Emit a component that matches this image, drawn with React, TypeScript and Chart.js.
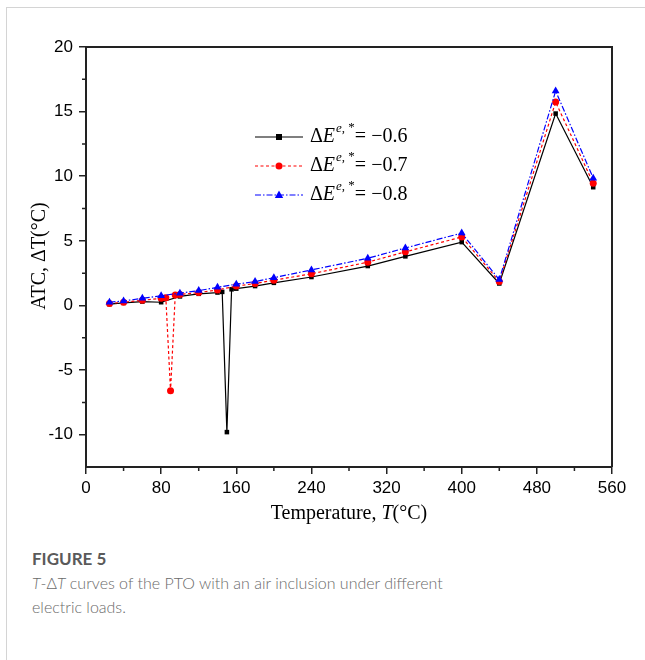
import React, { useEffect, useRef } from "react";
import { Chart, registerables } from "chart.js";

Chart.register(...registerables);

const blackX = [25, 40, 60, 80, 100, 120, 140, 145, 150, 155, 160, 180, 200, 240, 300, 340, 400, 440, 500, 540];
const blackY = [0.1, 0.2, 0.3, 0.25, 0.7, 0.9, 1.0, 1.05, -9.8, 1.25, 1.3, 1.5, 1.75, 2.2, 3.05, 3.8, 4.9, 1.7, 14.85, 9.15];

const redX = [25, 40, 60, 80, 85, 90, 95, 100, 120, 140, 160, 180, 200, 240, 300, 340, 400, 440, 500, 540];
const redY = [0.15, 0.25, 0.4, 0.55, 0.6, -6.6, 0.8, 0.85, 1.0, 1.2, 1.5, 1.7, 1.95, 2.45, 3.35, 4.15, 5.3, 1.85, 15.75, 9.45];

const blueX = [25, 40, 60, 80, 100, 120, 140, 160, 180, 200, 240, 300, 340, 400, 440, 500, 540];
const blueY = [0.25, 0.35, 0.55, 0.75, 0.95, 1.15, 1.4, 1.65, 1.85, 2.15, 2.75, 3.65, 4.45, 5.6, 2.0, 16.6, 9.85];

const xTickValues = [0, 80, 160, 240, 320, 400, 480, 560];
const xMinorTicks = [40, 120, 200, 280, 360, 440, 520];
const yTickValues = [-10, -5, 0, 5, 10, 15, 20];
const yMinorTicks = [-7.5, -2.5, 2.5, 7.5, 12.5, 17.5];

const legendValues = ["\u22120.6", "\u22120.7", "\u22120.8"];

const xTitleMain = "Temperature, ";
const yTitle = "ATC, \u0394T(\u00B0C)";

function drawMarker(ctx: CanvasRenderingContext2D, style: string, x: number, y: number, color: string) {
  ctx.save();
  ctx.fillStyle = color;
  ctx.setLineDash([]);
  ctx.beginPath();
  if (style === "rect") {
    ctx.fillRect(x - 3, y - 3, 6, 6);
  } else if (style === "circle") {
    ctx.arc(x, y, 3.5, 0, Math.PI * 2);
    ctx.fill();
  } else {
    ctx.moveTo(x, y - 4.5);
    ctx.lineTo(x + 4.2, y + 3);
    ctx.lineTo(x - 4.2, y + 3);
    ctx.closePath();
    ctx.fill();
  }
  ctx.restore();
}

const serif = '"Liberation Serif", "DejaVu Serif", serif';

const decorPlugin = {
  id: "decor",
  afterDraw(chart: any) {
    const ctx: CanvasRenderingContext2D = chart.ctx;
    const { left, right, top, bottom } = chart.chartArea;
    const xs = chart.scales.x;
    const ys = chart.scales.y;
    ctx.save();
    ctx.strokeStyle = "#222";
    ctx.lineWidth = 2;
    ctx.setLineDash([]);
    ctx.beginPath();
    ctx.moveTo(left, top);
    ctx.lineTo(right, top);
    ctx.lineTo(right, bottom);
    ctx.stroke();
    ctx.lineWidth = 1.5;
    ctx.beginPath();
    xMinorTicks.forEach((v) => {
      const px = xs.getPixelForValue(v);
      ctx.moveTo(px, bottom);
      ctx.lineTo(px, bottom + 4);
    });
    yMinorTicks.forEach((v) => {
      const py = ys.getPixelForValue(v);
      ctx.moveTo(left, py);
      ctx.lineTo(left - 4, py);
    });
    ctx.stroke();

    ctx.fillStyle = "#000";
    ctx.textBaseline = "middle";
    ctx.font = `20px ${serif}`;
    const w1 = ctx.measureText(xTitleMain).width;
    ctx.font = `italic 20px ${serif}`;
    const w2 = ctx.measureText("T").width;
    ctx.font = `20px ${serif}`;
    const w3 = ctx.measureText("(\u00B0C)").width;
    const total = w1 + w2 + w3;
    const sx = (left + right) / 2 - total / 2;
    const ty = 514;
    ctx.textAlign = "left";
    ctx.fillText(xTitleMain, sx, ty);
    ctx.font = `italic 20px ${serif}`;
    ctx.fillText("T", sx + w1, ty);
    ctx.font = `20px ${serif}`;
    ctx.fillText("(\u00B0C)", sx + w1 + w2, ty);

    ctx.save();
    ctx.translate(40, 256);
    ctx.rotate(-Math.PI / 2);
    ctx.textAlign = "center";
    ctx.fillText(yTitle, 0, 0);
    ctx.restore();

    const rows = [
      { y: 137, color: "#000", dash: [] as number[], marker: "rect" },
      { y: 166, color: "#ff0000", dash: [3, 2.5], marker: "circle" },
      { y: 195, color: "#0000ff", dash: [6, 2, 1.5, 2], marker: "triangle" },
    ];
    rows.forEach((r, i) => {
      ctx.strokeStyle = r.color;
      ctx.lineWidth = 1.2;
      ctx.setLineDash(r.dash);
      ctx.beginPath();
      ctx.moveTo(255, r.y);
      ctx.lineTo(303, r.y);
      ctx.stroke();
      ctx.setLineDash([]);
      drawMarker(ctx, r.marker, 279, r.y, r.color);
      ctx.fillStyle = "#000";
      ctx.textAlign = "left";
      ctx.textBaseline = "middle";
      let x = 310;
      ctx.font = `20px ${serif}`;
      ctx.fillText("\u0394", x, r.y);
      x += ctx.measureText("\u0394").width;
      ctx.font = `italic 20px ${serif}`;
      ctx.fillText("E", x, r.y);
      x += ctx.measureText("E").width + 1;
      ctx.font = `italic 13px ${serif}`;
      ctx.fillText("e", x, r.y - 8);
      x += ctx.measureText("e").width;
      ctx.font = `13px ${serif}`;
      ctx.fillText(",", x, r.y - 8);
      x += ctx.measureText(", ").width;
      ctx.fillText("*", x, r.y - 9);
      x += ctx.measureText("*").width;
      ctx.font = `20px ${serif}`;
      ctx.fillText("= " + legendValues[i], x, r.y);
    });
    ctx.restore();
  },
};

export default function App() {
  const ref = useRef<HTMLCanvasElement | null>(null);

  useEffect(() => {
    if (!ref.current) return;
    const toPts = (xs: number[], ys: number[]) => xs.map((x, i) => ({ x, y: ys[i] }));
    const chart = new Chart(ref.current, {
      type: "line",
      data: {
        datasets: [
          {
            label: "-0.8",
            data: toPts(blueX, blueY),
            borderColor: "#0000ff",
            backgroundColor: "#0000ff",
            borderWidth: 1.2,
            borderDash: [6, 2, 1.5, 2],
            pointStyle: "triangle",
            pointRadius: 4.5,
            pointBorderWidth: 0,
            tension: 0,
            order: 1,
          },
          {
            label: "-0.7",
            data: toPts(redX, redY),
            borderColor: "#ff0000",
            backgroundColor: "#ff0000",
            borderWidth: 1.2,
            borderDash: [3, 2.5],
            pointStyle: "circle",
            pointRadius: 3.5,
            pointBorderWidth: 0,
            tension: 0,
            order: 2,
          },
          {
            label: "-0.6",
            data: toPts(blackX, blackY),
            borderColor: "#000000",
            backgroundColor: "#000000",
            borderWidth: 1.2,
            pointStyle: "rect",
            pointRadius: 3.2,
            pointBorderWidth: 0,
            tension: 0,
            order: 3,
          },
        ],
      },
      options: {
        responsive: false,
        animation: false,
        devicePixelRatio: 1,
        layout: { padding: { left: 0, top: 47, right: 33, bottom: 0 } },
        plugins: { legend: { display: false }, tooltip: { enabled: false } },
        scales: {
          x: {
            type: "linear",
            min: 0,
            max: 560,
            afterBuildTicks: (s: any) => {
              s.ticks = xTickValues.map((v) => ({ value: v }));
            },
            afterFit: (s: any) => {
              s.height = 63;
            },
            grid: { display: true, drawOnChartArea: false, drawTicks: true, tickLength: 7, color: "#222", lineWidth: 1.5 },
            border: { display: true, color: "#222", width: 2 },
            ticks: {
              color: "#000",
              font: { family: '"Liberation Sans", Arial, sans-serif', size: 17 },
              padding: 4,
              maxRotation: 0,
              autoSkip: false,
            },
          },
          y: {
            type: "linear",
            min: -12.5,
            max: 20,
            afterBuildTicks: (s: any) => {
              s.ticks = yTickValues.map((v) => ({ value: v }));
            },
            afterFit: (s: any) => {
              s.width = 86;
            },
            grid: { display: true, drawOnChartArea: false, drawTicks: true, tickLength: 7, color: "#222", lineWidth: 1.5 },
            border: { display: true, color: "#222", width: 2 },
            ticks: {
              color: "#000",
              font: { family: '"Liberation Sans", Arial, sans-serif', size: 17 },
              padding: 6,
              autoSkip: false,
            },
          },
        },
      },
      plugins: [decorPlugin],
    } as any);
    return () => chart.destroy();
  }, []);

  return (
    <div style={{ position: "absolute", left: 0, top: 0, width: 645, height: 660, background: "#fff", overflow: "hidden" }}>
      <div
        style={{
          position: "absolute",
          left: 6,
          top: 7,
          width: 700,
          height: 700,
          borderLeft: "1px solid #d4d4d4",
          borderTop: "1px solid #d4d4d4",
        }}
      />
      <canvas ref={ref} width={645} height={530} style={{ position: "absolute", left: 0, top: 0, width: 645, height: 530 }} />
      <div
        style={{
          position: "absolute",
          left: 32,
          top: 547,
          fontFamily: "Lato, 'Open Sans', sans-serif",
          color: "#5a5a5a",
          fontSize: 17,
          fontWeight: 700,
          lineHeight: "24px",
        }}
      >
        FIGURE 5
      </div>
      <div
        style={{
          position: "absolute",
          left: 32,
          top: 571,
          width: 600,
          fontFamily: "Lato, 'Open Sans', sans-serif",
          color: "#6a6a6a",
          fontSize: 16,
          fontWeight: 300,
          lineHeight: "24px",
        }}
      >
        <i>T</i>-Δ<i>T</i> curves of the PTO with an air inclusion under different
        <br />
        electric loads.
      </div>
    </div>
  );
}
